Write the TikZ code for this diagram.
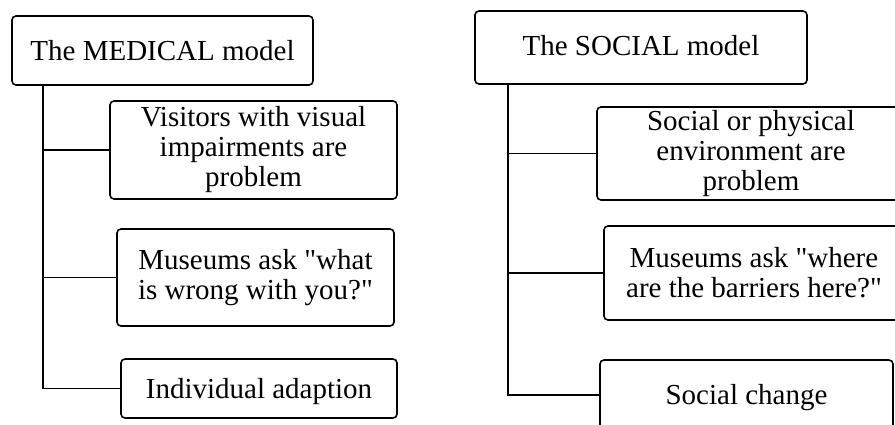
\documentclass[tikz,border=0pt]{standalone}
\usepackage{fontspec}
\setmainfont{Liberation Serif}[Ligatures=TeXOff]
\begin{document}
\begin{tikzpicture}[x=1pt,y=-1pt,
  box/.style={draw,line width=1.6pt,rounded corners=4pt,align=center,inner sep=0pt,
    font=\fontsize{29}{30}\selectfont},
  link/.style={line width=1.6pt}]
\useasboundingbox (0,0) rectangle (895,424);
\clip (0,0) rectangle (895,424);
% MEDICAL model
\node[box,minimum width=301pt,minimum height=69pt] (m0) at (162.5,50.5) {The MEDICAL model};
\node[box,minimum width=287pt,minimum height=98pt] (m1) at (253.5,150) {Visitors with visual\\impairments are\\problem};
\node[box,minimum width=277pt,minimum height=97pt] (m2) at (255.5,277.5) {Museums ask "what\\is wrong with you?"};
\node[box,minimum width=276pt,minimum height=59pt,text height=20pt,text depth=1pt] (m3) at (259,388.5) {Individual adaption};
\coordinate (mt) at (43,85);
\draw[link] (mt) |- (m3.west);
\draw[link] (mt |- m1.west) -- (m1.west);
\draw[link] (mt |- m2.west) -- (m2.west);
% SOCIAL model
\node[box,minimum width=332pt,minimum height=73pt,text height=17pt,text depth=2pt] (s0) at (641,47.5) {The SOCIAL model};
\node[box,minimum width=308pt,minimum height=93pt] (s1) at (751,153.5) {Social or physical\\environment are\\problem};
\node[box,minimum width=300pt,minimum height=94pt] (s2) at (754,273) {Museums ask "where\\are the barriers here?"};
\node[box,minimum width=293pt,minimum height=70pt,text height=20pt,text depth=2pt] (s3) at (746.5,395) {Social change};
\coordinate (st) at (508,84);
\draw[link] (st) |- (s3.west);
\draw[link] (st |- s1.west) -- (s1.west);
\draw[link] (st |- s2.west) -- (s2.west);
\end{tikzpicture}
\end{document}
